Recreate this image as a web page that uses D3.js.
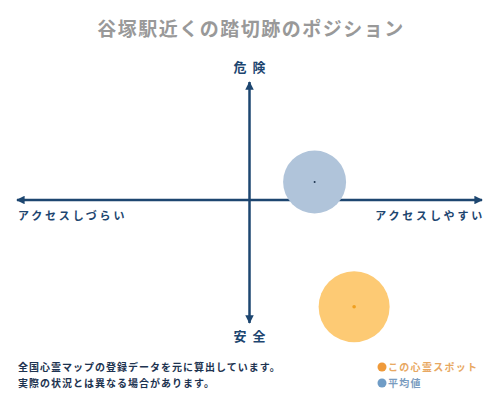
<!DOCTYPE html>
<html>
<head>
<meta charset="utf-8">
<script src="https://cdn.jsdelivr.net/npm/d3@7"></script>
<style>
  body { margin: 0; background: #fff; }
  text { font-family: "Noto Sans CJK JP", sans-serif; }
</style>
</head>
<body>
<div id="chart"></div>
<script>
// chart values
const title = "谷塚駅近くの踏切跡のポジション";
const axisLabels = ["危険", "安全", "アクセスしづらい", "アクセスしやすい"];
const spotNames = ["平均値", "この心霊スポット"];
const spotX = [0.28, 0.45];     // access: -1 hard .. 1 easy
const spotY = [0.15, -0.89];    // danger: -1 safe .. 1 danger
const notes = ["全国心霊マップの登録データを元に算出しています。", "実際の状況とは異なる場合があります。"];
const legendNames = ["この心霊スポット", "平均値"];

const width = 500, height = 400;
const axisColor = "#1d4670";
const fills = ["#b0c4da", "#fdca74"];
const dots = ["#1d3350", "#f0a020"];
const radius = [31.5, 35.5];

const svg = d3.select("#chart")
  .append("svg")
    .attr("width", width)
    .attr("height", height);

// scales
const x = d3.scaleLinear().domain([-1, 1]).range([17, 482]);
const y = d3.scaleLinear().domain([-1, 1]).range([320, 80]);

// arrow markers
const defs = svg.append("defs");
defs.append("marker")
    .attr("id", "arrow")
    .attr("viewBox", "0 0 10 10")
    .attr("refX", 9).attr("refY", 5)
    .attr("markerWidth", 3.4).attr("markerHeight", 3.4)
    .attr("orient", "auto-start-reverse")
  .append("path")
    .attr("d", "M0,0 L10,5 L0,10 z")
    .attr("fill", axisColor);

// title
svg.append("text")
    .attr("x", width / 2 + 1)
    .attr("y", 36)
    .attr("text-anchor", "middle")
    .attr("font-size", 19)
    .attr("font-weight", "bold")
    .attr("letter-spacing", 1.5)
    .attr("fill", "#999")
    .text(title);

// bubbles
const g = svg.append("g");
spotX.forEach(function(v, i) {
  g.append("circle")
      .attr("cx", x(v))
      .attr("cy", y(spotY[i]))
      .attr("r", radius[i])
      .attr("fill", fills[i]);
});

// axes
svg.append("line")
    .attr("x1", x(0)).attr("x2", x(0))
    .attr("y1", y(-1) + 3).attr("y2", y(1) + 2)
    .attr("stroke", axisColor).attr("stroke-width", 2.5)
    .attr("marker-start", "url(#arrow)")
    .attr("marker-end", "url(#arrow)");
svg.append("line")
    .attr("x1", x(-1)).attr("x2", x(1))
    .attr("y1", y(0)).attr("y2", y(0))
    .attr("stroke", axisColor).attr("stroke-width", 2.5)
    .attr("marker-start", "url(#arrow)")
    .attr("marker-end", "url(#arrow)");

// centre dots
spotX.forEach(function(v, i) {
  g.append("circle")
      .attr("cx", x(v))
      .attr("cy", y(spotY[i]))
      .attr("r", i === 0 ? 1 : 1.8)
      .attr("fill", dots[i]);
});
svg.node().appendChild(g.node());

// axis labels
svg.append("text")
    .attr("x", x(0) + 3).attr("y", 72)
    .attr("text-anchor", "middle")
    .attr("font-size", 13).attr("font-weight", "bold")
    .attr("letter-spacing", 6)
    .attr("fill", axisColor)
    .text(axisLabels[0]);
svg.append("text")
    .attr("x", x(0) + 3).attr("y", 341)
    .attr("text-anchor", "middle")
    .attr("font-size", 13).attr("font-weight", "bold")
    .attr("letter-spacing", 6)
    .attr("fill", axisColor)
    .text(axisLabels[1]);
svg.append("text")
    .attr("x", 18).attr("y", 220)
    .attr("text-anchor", "start")
    .attr("font-size", 11).attr("font-weight", "bold")
    .attr("letter-spacing", 2.8)
    .attr("fill", axisColor)
    .text(axisLabels[2]);
svg.append("text")
    .attr("x", 485).attr("y", 220)
    .attr("text-anchor", "end")
    .attr("font-size", 11).attr("font-weight", "bold")
    .attr("letter-spacing", 2.8)
    .attr("fill", axisColor)
    .text(axisLabels[3]);

// notes
svg.selectAll(".note")
  .data(notes)
  .join("text")
    .attr("class", "note")
    .attr("x", 18)
    .attr("y", (d, i) => 371 + i * 16)
    .attr("font-size", 10).attr("font-weight", "bold")
    .attr("letter-spacing", 1)
    .attr("fill", "#1d3350")
    .text(d => d);

// legend
const legendDot = ["#ef9a3a", "#6f9cc6"];
const legendText = ["#e8a862", "#7a9cc0"];
legendNames.forEach(function(name, i) {
  svg.append("circle")
      .attr("cx", 382).attr("cy", 367 + i * 16)
      .attr("r", 4.5)
      .attr("fill", legendDot[i]);
  svg.append("text")
      .attr("x", 388).attr("y", 371 + i * 16)
      .attr("font-size", 10).attr("font-weight", "bold")
      .attr("letter-spacing", 1.3)
      .attr("fill", legendText[i])
      .text(name);
});
</script>
</body>
</html>
